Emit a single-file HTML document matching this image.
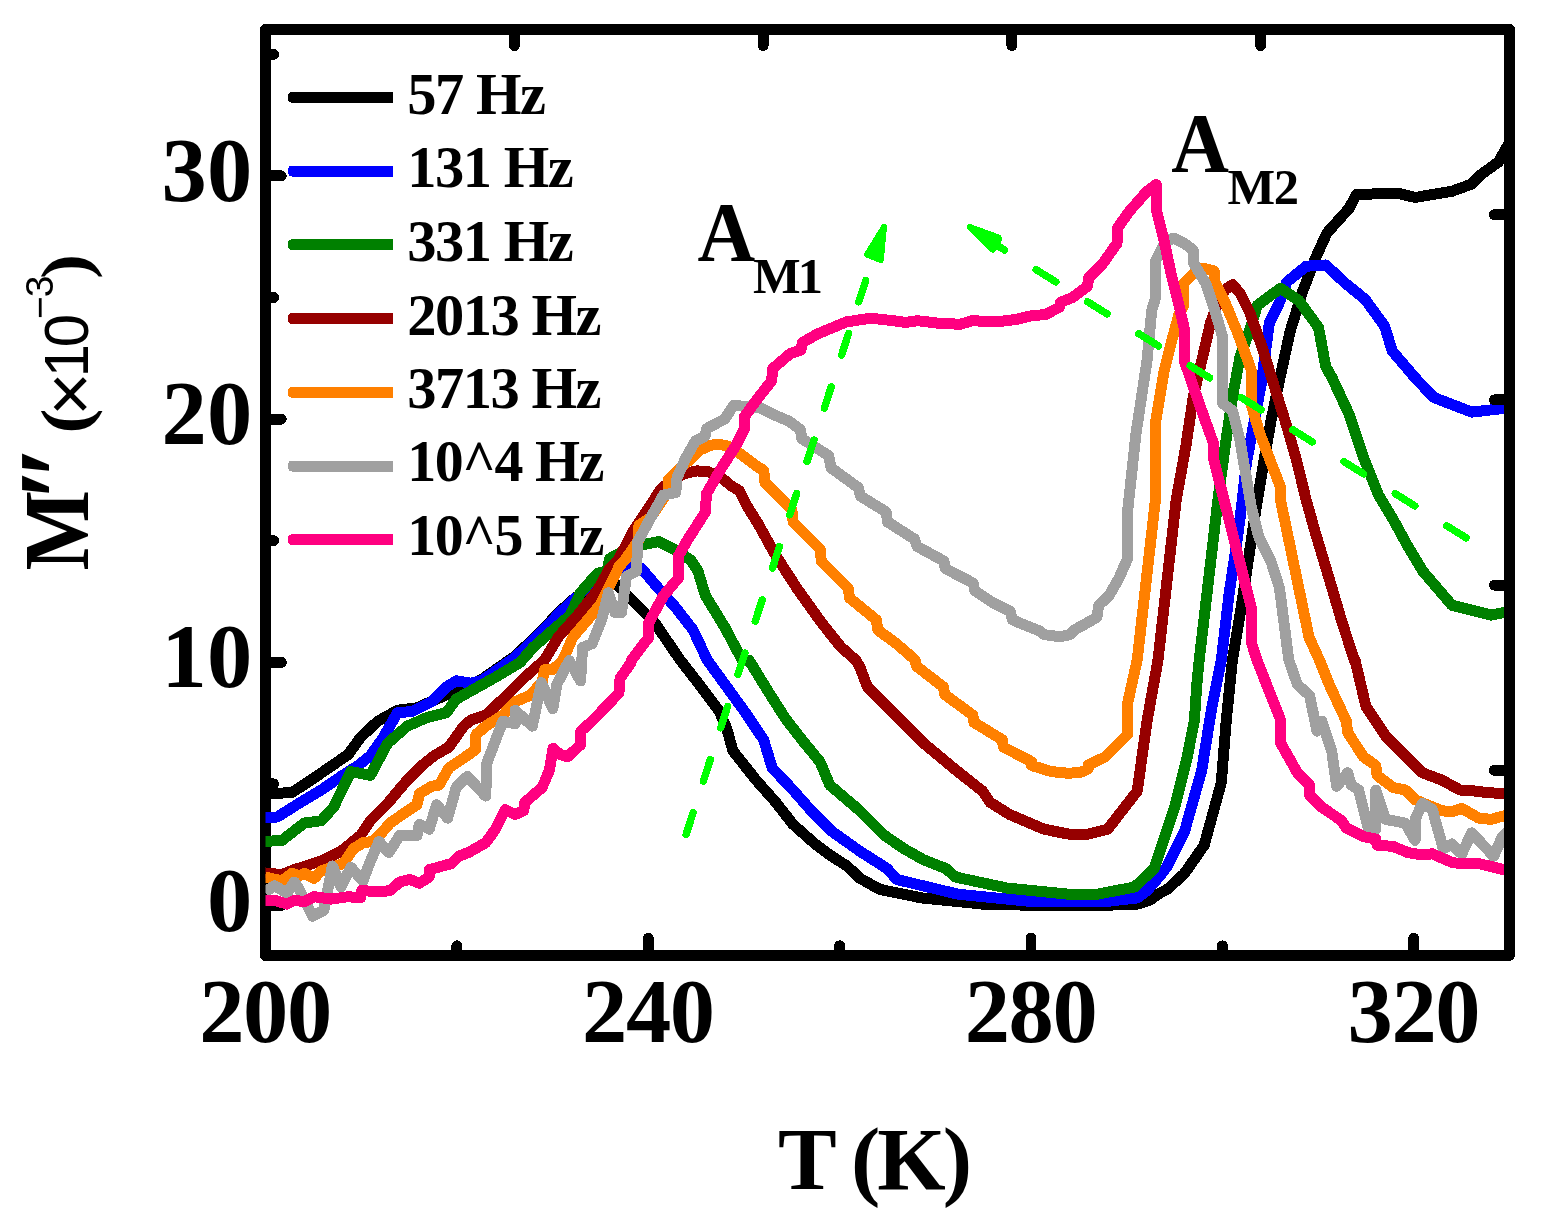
<!DOCTYPE html>
<html lang="en"><head><meta charset="utf-8"><title>M″ versus T</title>
<style>
html,body{margin:0;padding:0;background:#fff;}
body{width:1546px;height:1223px;overflow:hidden;}
svg{display:block;}
text{font-family:"Liberation Serif","DejaVu Serif",serif;font-weight:bold;fill:#000;}
.sans{font-family:"Liberation Sans","DejaVu Sans",sans-serif;font-weight:normal;}
.tick{font-size:90.5px;letter-spacing:-1.3px;}
.leg{font-size:60px;letter-spacing:-1.5px;}
.crv{fill:none;stroke-linejoin:round;stroke-linecap:butt;}
.ax{stroke:#000;fill:none;}
.tk{stroke:#000;stroke-linecap:round;fill:none;}
.arr{stroke:#00ff00;fill:none;stroke-linecap:round;}
</style></head><body>
<svg width="1546" height="1223" viewBox="0 0 1546 1223" shape-rendering="crispEdges">
<rect x="0" y="0" width="1546" height="1223" fill="#ffffff"/>
<defs><clipPath id="plotclip"><rect x="265.5" y="29.5" width="1244.0" height="926.0"/></clipPath></defs>
<g class="ax" stroke-width="10.8">
<path d="M265.5,29.5 L265.5,955.5 L1509.5,955.5" stroke-linejoin="round"/>
</g>
<g class="tk" stroke-width="10.9">
<line x1="265.5" y1="905.5" x2="281.3" y2="905.5"/>
<line x1="265.5" y1="662.3" x2="281.3" y2="662.3"/>
<line x1="265.5" y1="419.1" x2="281.3" y2="419.1"/>
<line x1="265.5" y1="175.9" x2="281.3" y2="175.9"/>
<line x1="265.5" y1="783.9" x2="273.6" y2="783.9"/>
<line x1="265.5" y1="540.7" x2="273.6" y2="540.7"/>
<line x1="265.5" y1="297.5" x2="273.6" y2="297.5"/>
<line x1="265.5" y1="54.3" x2="273.6" y2="54.3"/>
<line x1="648.3" y1="955.5" x2="648.3" y2="938.2"/>
<line x1="1031.0" y1="955.5" x2="1031.0" y2="938.2"/>
<line x1="1413.8" y1="955.5" x2="1413.8" y2="938.2"/>
<line x1="456.9" y1="955.5" x2="456.9" y2="945.8"/>
<line x1="839.7" y1="955.5" x2="839.7" y2="945.8"/>
<line x1="1222.4" y1="955.5" x2="1222.4" y2="945.8"/>
</g>
<g clip-path="url(#plotclip)">
<polyline class="crv" stroke="#000000" stroke-width="11.0" points="264.9,794.4 271.0,793.7 291.9,792.5 309.1,781.4 328.7,767.9 348.3,754.4 360.6,737.3 377.7,721.3 397.4,710.3 417.0,707.8 436.6,699.2 456.2,690.7 467.8,685.9 482.5,678.9 498.9,667.4 515.2,656.0 531.6,640.5 547.9,624.1 559.4,611.8 572.5,600.1 588.8,587.8 601.9,580.4 610.1,579.3 616.6,584.5 629.7,597.6 646.1,614.0 656.2,624.9 680.2,660.0 697.4,682.1 719.4,711.5 726.8,728.7 732.9,750.8 756.2,780.2 775.8,802.3 793.0,824.3 815.1,844.0 829.8,855.0 847.0,866.0 860.0,878.3 879.6,889.3 921.3,897.9 982.6,904.1 1031.7,905.3 1105.3,905.3 1137.2,904.1 1149.4,900.4 1160.0,893.0 1167.4,889.3 1184.5,873.4 1204.2,845.2 1221.3,782.6 1226.2,721.3 1232.4,660.0 1241.5,605.3 1248.9,556.2 1256.2,507.2 1263.6,463.0 1270.9,421.3 1277.9,387.5 1290.2,331.1 1302.4,291.9 1314.7,260.0 1326.9,233.0 1349.0,208.5 1356.4,194.5 1378.5,193.8 1398.1,193.3 1415.2,197.5 1432.4,194.5 1452.0,191.3 1471.7,184.0 1481.5,174.2 1498.6,161.9 1504.0,152.1 1509.7,142.3"/>
<polyline class="crv" stroke="#0000ff" stroke-width="11.0" points="264.9,817.0 277.2,817.0 296.8,804.7 321.3,790.0 340.9,776.5 358.1,765.5 370.4,755.7 382.6,738.5 397.4,712.7 412.1,711.5 431.7,701.7 446.4,687.0 456.2,680.8 470.9,683.3 480.8,680.8 482.5,680.2 498.9,668.7 515.2,657.3 531.6,641.8 547.9,625.4 559.4,613.1 572.5,600.9 582.3,591.9 597.0,578.0 613.4,569.0 629.2,566.0 641.5,568.5 656.2,585.7 675.8,607.7 693.0,629.8 707.2,660.0 726.8,687.0 746.4,714.0 763.6,739.7 772.2,767.9 793.0,790.0 810.2,809.6 832.3,831.7 860.0,851.3 887.0,868.5 896.8,879.5 958.1,894.2 1031.7,901.6 1105.3,901.6 1137.2,897.9 1147.0,890.6 1160.0,875.8 1167.4,866.0 1184.5,831.7 1201.7,770.4 1211.5,709.1 1221.3,660.0 1229.2,593.0 1236.6,544.0 1241.5,507.2 1246.4,463.0 1253.8,423.8 1261.1,384.5 1269.4,322.6 1279.2,303.0 1286.6,282.2 1306.2,266.2 1325.8,265.0 1345.5,283.4 1365.1,299.3 1384.7,326.3 1392.1,350.8 1410.0,371.7 1412.8,375.3 1433.6,397.4 1471.7,412.1 1504.0,408.4 1509.7,407.7"/>
<polyline class="crv" stroke="#008000" stroke-width="11.0" points="264.9,841.5 282.1,840.3 304.2,823.1 321.3,820.7 333.6,807.2 350.8,771.6 370.4,775.3 387.5,743.4 407.2,726.2 426.8,717.6 446.4,712.7 456.2,699.2 475.8,688.2 495.5,677.2 520.0,662.5 533.6,647.0 553.2,629.8 570.4,615.1 580.2,593.0 597.4,573.4 607.2,570.9 609.6,558.7 631.7,546.4 646.4,544.0 658.7,541.5 673.4,548.9 690.6,559.9 697.9,570.9 705.3,595.5 724.9,627.4 742.1,660.0 748.9,660.0 768.5,691.9 785.7,718.9 802.8,740.9 820.0,761.8 829.8,785.1 847.0,799.8 860.0,810.8 884.5,835.4 904.2,848.9 923.8,859.9 945.8,868.5 955.7,877.1 1007.2,888.1 1068.5,894.2 1097.9,894.2 1134.7,886.9 1154.3,868.5 1160.0,851.3 1174.7,807.2 1187.0,758.1 1194.3,721.3 1196.8,684.5 1199.2,660.0 1217.9,500.0 1225.3,445.3 1232.6,396.2 1240.0,357.0 1249.8,330.0 1257.2,305.5 1267.0,298.1 1280.5,288.3 1298.9,300.6 1318.5,327.5 1325.8,366.8 1331.8,377.2 1349.0,414.0 1363.7,458.1 1378.5,494.9 1393.2,519.4 1407.9,546.4 1422.6,570.9 1452.0,605.3 1491.3,615.1 1504.0,612.6 1509.7,612.6"/>
<polyline class="crv" stroke="#960000" stroke-width="11.0" points="264.9,872.9 282.1,874.6 294.3,869.7 309.1,864.8 323.8,859.9 340.9,851.3 360.6,835.4 370.4,820.7 387.5,803.5 407.2,780.2 421.9,765.5 434.1,755.7 448.9,747.1 463.6,726.2 470.9,720.1 485.7,715.2 505.3,696.8 524.9,677.2 544.5,660.0 558.1,637.2 577.7,615.1 597.4,590.6 609.6,568.5 618.2,560.0 632.9,531.7 649.3,507.2 660.7,489.2 672.5,479.4 683.9,473.7 697.0,470.9 708.4,471.7 721.5,477.7 731.3,485.9 739.5,490.8 747.7,507.2 758.0,523.5 774.7,553.8 796.8,588.1 821.3,622.4 840.9,647.0 855.7,660.0 860.0,667.4 867.4,687.0 889.4,709.1 923.8,743.4 953.2,767.9 982.6,791.2 990.0,802.3 1009.6,814.5 1044.0,829.2 1068.5,834.1 1088.1,834.1 1107.7,829.2 1137.2,791.2 1147.0,721.3 1158.0,660.0 1176.2,500.0 1186.0,445.3 1193.4,396.2 1203.2,354.5 1210.6,322.6 1217.9,303.0 1225.3,289.5 1232.6,284.6 1240.0,293.2 1249.8,312.8 1262.1,347.2 1274.3,386.4 1286.6,425.7 1296.4,460.0 1306.2,500.0 1315.1,531.7 1329.8,580.8 1342.1,622.4 1354.3,660.0 1355.0,660.0 1366.0,706.6 1385.7,736.0 1422.4,772.8 1442.1,780.2 1460.0,790.0 1466.8,790.0 1486.4,792.5 1504.0,793.7 1509.7,793.7"/>
<polyline class="crv" stroke="#ff8000" stroke-width="11.0" points="264.9,877.1 282.1,880.8 291.9,873.4 299.2,875.8 304.2,873.4 314.0,878.3 321.3,870.9 328.7,868.5 343.4,863.6 353.2,848.9 363.0,842.7 372.8,841.5 382.6,831.7 390.0,823.1 402.3,814.5 417.0,804.7 419.4,793.7 431.7,786.3 439.1,785.1 448.9,767.9 463.6,758.1 475.8,749.5 475.8,734.8 485.7,726.2 502.8,715.2 515.1,701.7 529.8,695.6 542.1,682.1 544.5,669.8 551.9,669.8 560.0,663.7 563.0,660.0 572.8,637.2 587.5,620.0 599.8,605.3 612.1,580.8 619.4,566.0 625.0,560.0 638.9,539.9 638.9,525.2 651.2,517.0 668.4,490.8 668.4,479.4 682.3,466.3 693.7,456.5 700.3,449.9 711.7,445.0 721.5,444.7 729.7,446.7 739.5,453.2 758.0,467.1 763.7,470.4 764.9,482.6 791.9,509.6 793.1,521.9 820.1,548.9 821.3,561.1 848.3,588.1 849.5,597.9 876.5,620.0 877.7,629.8 897.4,644.5 915.2,660.0 916.4,666.1 943.4,687.0 944.6,694.3 972.8,715.2 974.1,722.5 1002.3,739.7 1003.5,747.1 1031.7,761.8 1031.7,765.5 1051.3,771.6 1068.5,773.3 1080.8,772.3 1088.1,769.1 1088.1,765.0 1105.3,756.9 1127.4,734.8 1127.4,704.2 1137.2,660.0 1155.4,500.0 1155.4,423.2 1164.0,371.7 1171.3,342.3 1178.7,315.3 1183.6,305.5 1183.6,283.4 1195.8,271.1 1203.2,268.2 1214.2,271.1 1214.2,280.9 1225.3,303.0 1237.5,332.5 1251.0,369.2 1251.0,403.6 1259.6,433.0 1271.9,464.9 1280.5,487.0 1280.5,500.0 1309.0,637.2 1319.4,660.0 1329.2,684.5 1346.4,721.3 1347.6,732.4 1363.6,756.9 1375.8,765.5 1377.1,775.3 1393.0,787.5 1405.3,790.0 1415.1,799.8 1442.1,810.8 1451.9,811.6 1460.0,809.1 1461.8,808.4 1479.0,818.2 1491.3,819.4 1504.0,815.8 1509.7,815.0"/>
<polyline class="crv" stroke="#a0a0a0" stroke-width="11.0" points="264.9,891.8 274.7,885.7 287.0,893.0 294.3,882.0 299.2,889.3 312.7,916.3 323.8,910.2 332.4,866.0 340.9,886.9 350.8,867.3 363.0,880.8 370.4,861.1 379.0,841.5 388.8,852.5 399.8,835.4 417.0,835.4 419.4,824.3 429.2,829.2 436.6,804.7 447.6,818.2 456.2,787.5 467.3,776.5 485.7,796.1 486.9,763.0 502.8,721.3 515.1,723.8 515.1,710.3 532.3,726.2 541.4,682.6 552.8,708.8 556.9,684.3 569.2,660.6 580.6,681.0 582.6,647.5 592.1,643.7 601.9,618.9 608.4,592.7 615.0,612.3 621.5,612.3 626.4,576.4 636.3,571.4 636.9,560.0 637.8,541.5 653.8,512.1 663.6,494.9 675.8,492.5 677.1,477.7 685.7,458.1 695.5,440.9 705.3,436.0 706.5,428.7 724.9,418.9 733.6,405.3 760.0,407.8 774.7,415.2 789.4,421.3 800.5,429.9 801.7,438.5 828.7,455.7 831.1,467.9 858.1,487.5 860.6,496.1 886.3,512.1 887.5,521.9 914.5,539.1 917.0,546.4 944.0,561.1 945.2,568.5 973.4,583.2 974.6,590.6 993.0,602.8 1010.2,611.4 1012.6,620.0 1039.6,631.0 1044.5,634.7 1060.0,636.7 1069.8,634.7 1074.7,629.8 1096.8,617.5 1098.8,605.3 1109.1,595.5 1118.9,578.3 1127.5,558.7 1127.5,512.1 1136.0,433.6 1143.4,384.5 1147.1,360.0 1151.7,310.4 1155.4,298.1 1155.4,261.3 1165.2,241.7 1173.8,238.0 1183.6,242.9 1193.4,250.3 1193.9,263.8 1205.7,283.4 1215.5,312.8 1222.8,337.4 1222.8,403.6 1232.6,410.9 1240.0,440.4 1251.3,507.2 1258.7,536.6 1270.9,561.1 1279.5,588.1 1288.8,660.0 1297.4,684.5 1309.6,695.6 1317.0,731.1 1321.9,721.3 1331.7,750.8 1336.6,786.3 1347.6,772.8 1351.3,785.1 1358.7,790.0 1368.5,829.2 1375.8,829.2 1375.8,790.0 1385.7,819.4 1405.3,823.1 1415.1,840.3 1415.1,819.4 1422.4,803.5 1432.3,809.6 1443.3,848.9 1451.9,844.0 1460.0,852.5 1461.8,853.8 1471.7,832.9 1493.7,856.2 1502.3,836.6 1509.7,829.2"/>
<polyline class="crv" stroke="#ff0080" stroke-width="11.0" points="264.9,900.4 274.7,900.4 287.0,904.1 294.3,900.4 304.2,901.6 314.0,896.7 331.1,899.1 348.3,896.7 360.6,897.9 361.8,890.6 380.2,891.8 390.0,890.6 399.8,882.0 409.6,879.5 419.4,883.2 429.2,877.1 429.2,869.7 451.3,863.6 458.7,856.2 468.5,852.5 485.7,842.7 495.5,829.2 505.3,809.6 515.1,814.5 523.7,810.8 524.9,802.3 542.1,787.5 549.4,770.4 553.1,748.3 560.0,754.4 567.4,756.9 580.8,744.6 580.8,731.1 591.9,721.3 618.9,693.1 620.1,678.4 631.1,662.5 631.7,660.0 648.9,637.2 648.9,622.4 663.6,595.5 678.3,578.3 678.3,556.2 688.1,539.1 705.3,512.1 706.5,493.7 720.0,470.4 737.2,443.4 744.5,428.7 744.5,416.4 760.0,395.6 771.6,380.8 772.8,368.5 790.0,353.8 801.0,350.1 802.3,342.7 817.0,334.1 831.7,328.0 846.4,321.9 870.9,318.2 893.0,320.7 905.3,322.4 917.5,320.7 937.2,323.1 960.0,324.3 972.3,320.7 996.8,321.9 1016.4,319.4 1031.1,315.8 1045.8,314.5 1059.3,307.2 1060.6,302.3 1072.8,297.4 1087.5,286.3 1088.8,277.7 1102.3,264.2 1117.0,243.4 1117.0,228.7 1129.2,211.5 1146.4,191.9 1156.2,184.5 1156.2,209.1 1163.6,238.5 1170.9,272.8 1178.3,302.3 1184.4,329.2 1184.4,361.1 1195.5,393.0 1207.7,427.4 1213.9,444.5 1213.9,460.0 1251.3,607.7 1251.3,642.1 1256.9,660.0 1280.2,718.9 1280.2,742.2 1297.4,772.8 1309.6,785.1 1309.6,794.9 1321.9,807.2 1341.5,820.7 1346.4,828.0 1363.6,836.6 1375.8,839.1 1377.1,845.2 1393.0,846.4 1407.7,852.5 1422.4,855.0 1432.3,853.8 1451.9,862.4 1460.0,863.6 1479.0,863.6 1504.0,869.7 1509.7,870.9"/>
</g>
<g class="arr" stroke-width="7.4">
<line x1="686.1" y1="834.3" x2="693.1" y2="812.9"/>
<line x1="703.4" y1="781.1" x2="710.3" y2="759.6"/>
<line x1="720.7" y1="727.8" x2="727.6" y2="706.4"/>
<line x1="737.9" y1="674.6" x2="744.9" y2="653.1"/>
<line x1="755.2" y1="621.3" x2="762.2" y2="599.9"/>
<line x1="772.5" y1="568.1" x2="779.4" y2="546.6"/>
<line x1="789.7" y1="514.8" x2="796.7" y2="493.4"/>
<line x1="807.0" y1="461.6" x2="814.0" y2="440.1"/>
<line x1="824.3" y1="408.3" x2="831.2" y2="386.9"/>
<line x1="841.6" y1="355.1" x2="848.5" y2="333.6"/>
<line x1="858.8" y1="301.8" x2="865.8" y2="280.4"/>
<line x1="984.9" y1="237.7" x2="1004.5" y2="249.9"/>
<line x1="1036.2" y1="269.7" x2="1055.8" y2="281.9"/>
<line x1="1087.5" y1="301.7" x2="1107.1" y2="313.9"/>
<line x1="1138.8" y1="333.7" x2="1158.4" y2="345.9"/>
<line x1="1190.1" y1="365.7" x2="1209.7" y2="377.9"/>
<line x1="1241.4" y1="397.7" x2="1261.0" y2="409.9"/>
<line x1="1292.7" y1="429.7" x2="1312.3" y2="441.9"/>
<line x1="1344.0" y1="461.7" x2="1363.6" y2="473.9"/>
<line x1="1395.3" y1="493.7" x2="1414.9" y2="505.9"/>
<line x1="1446.6" y1="525.7" x2="1466.2" y2="537.9"/>
</g>
<g fill="#00ff00" stroke="#00ff00" stroke-width="6" stroke-linejoin="round">
<polygon points="884.0,227.0 867.0,254.6 880.8,260.0"/>
<polygon points="969.8,227.0 998.7,237.5 998.7,240.5 992.8,249.8"/>
</g>
<g class="tk" stroke-width="10.9">
<line x1="514.3" y1="29.5" x2="514.3" y2="45.6"/>
<line x1="1509.5" y1="214.7" x2="1494.4" y2="214.7"/>
<line x1="763.1" y1="29.5" x2="763.1" y2="45.6"/>
<line x1="1509.5" y1="399.9" x2="1494.4" y2="399.9"/>
<line x1="1011.9" y1="29.5" x2="1011.9" y2="45.6"/>
<line x1="1509.5" y1="585.1" x2="1494.4" y2="585.1"/>
<line x1="1260.7" y1="29.5" x2="1260.7" y2="45.6"/>
<line x1="1509.5" y1="770.3" x2="1494.4" y2="770.3"/>
</g>
<g class="ax" stroke-width="10.8">
<path d="M265.5,49.5 L265.5,29.5 L1509.5,29.5 L1509.5,955.5 L1489.5,955.5" stroke-linejoin="round"/>
</g>
<path d="M292.5,91.8 H393.2 V102.8 H292.5 Q288,102.8 288,98.3 V96.3 Q288,91.8 292.5,91.8 Z" fill="#000000"/>
<text class="leg" transform="translate(407.2,114.0) scale(0.975,1)">57 Hz</text>
<path d="M292.5,165.6 H393.2 V176.6 H292.5 Q288,176.6 288,172.1 V170.1 Q288,165.6 292.5,165.6 Z" fill="#0000ff"/>
<text class="leg" transform="translate(407.2,186.9) scale(0.975,1)">131 Hz</text>
<path d="M292.5,239.3 H393.2 V250.3 H292.5 Q288,250.3 288,245.8 V243.8 Q288,239.3 292.5,239.3 Z" fill="#008000"/>
<text class="leg" transform="translate(407.2,260.6) scale(0.975,1)">331 Hz</text>
<path d="M292.5,313.1 H393.2 V324.1 H292.5 Q288,324.1 288,319.6 V317.6 Q288,313.1 292.5,313.1 Z" fill="#960000"/>
<text class="leg" transform="translate(407.2,335.2) scale(0.975,1)">2013 Hz</text>
<path d="M292.5,386.8 H393.2 V397.8 H292.5 Q288,397.8 288,393.3 V391.3 Q288,386.8 292.5,386.8 Z" fill="#ff8000"/>
<text class="leg" transform="translate(407.2,408.1) scale(0.975,1)">3713 Hz</text>
<path d="M292.5,460.6 H393.2 V471.6 H292.5 Q288,471.6 288,467.1 V465.1 Q288,460.6 292.5,460.6 Z" fill="#a0a0a0"/>
<text class="leg" transform="translate(407.2,481.4) scale(0.966,1)">10^4 Hz</text>
<path d="M292.5,534.3 H393.2 V545.3 H292.5 Q288,545.3 288,540.8 V538.8 Q288,534.3 292.5,534.3 Z" fill="#ff0080"/>
<text class="leg" transform="translate(407.2,554.8) scale(0.966,1)">10^5 Hz</text>
<text class="tick" x="252.7" y="930.5" text-anchor="end" style="letter-spacing:0.4px;">0</text>
<text class="tick" x="252.7" y="687.3" text-anchor="end" style="letter-spacing:0.4px;">10</text>
<text class="tick" x="252.7" y="444.1" text-anchor="end" style="letter-spacing:0.4px;">20</text>
<text class="tick" x="252.7" y="200.9" text-anchor="end" style="letter-spacing:0.4px;">30</text>
<text class="tick" x="265.1" y="1041.5" text-anchor="middle">200</text>
<text class="tick" x="647.9" y="1041.5" text-anchor="middle">240</text>
<text class="tick" x="1030.6" y="1041.5" text-anchor="middle">280</text>
<text class="tick" x="1413.4" y="1041.5" text-anchor="middle">320</text>
<text x="873.5" y="1189.2" text-anchor="middle" style="font-size:88px;letter-spacing:-3px;">T (K)</text>
<g transform="translate(88.3,570.5) rotate(-90)">
<text transform="translate(0,0) scale(0.915,1)" style="font-size:93px;">M</text>
<text x="70.3" y="9" style="font-size:115px;">′</text>
<text x="92.3" y="9" style="font-size:115px;">′</text>
<text transform="translate(137,0) scale(1.12,1)" style="font-size:67px;">(</text>
<text class="sans" x="154.6" y="6.6" style="font-size:75px;">×</text>
<text class="sans" transform="translate(193.2,0) scale(0.95,1)" style="font-size:63px;letter-spacing:-3.5px;">10</text>
<text class="sans" x="251.5" y="-35" style="font-size:39px;letter-spacing:-1px;">−3</text>
<text transform="translate(291.5,0) scale(1.12,1)" style="font-size:67px;">)</text>
</g>
<text transform="translate(697.6,260.6) scale(0.94,1)" style="font-size:85px;">A</text>
<text x="753" y="293.0" style="font-size:50.5px;letter-spacing:-3px;">M1</text>
<text transform="translate(1171.3,172.0) scale(0.94,1)" style="font-size:85px;">A</text>
<text x="1227.5" y="204.4" style="font-size:50.5px;letter-spacing:-1.5px;">M2</text>
</svg></body></html>
